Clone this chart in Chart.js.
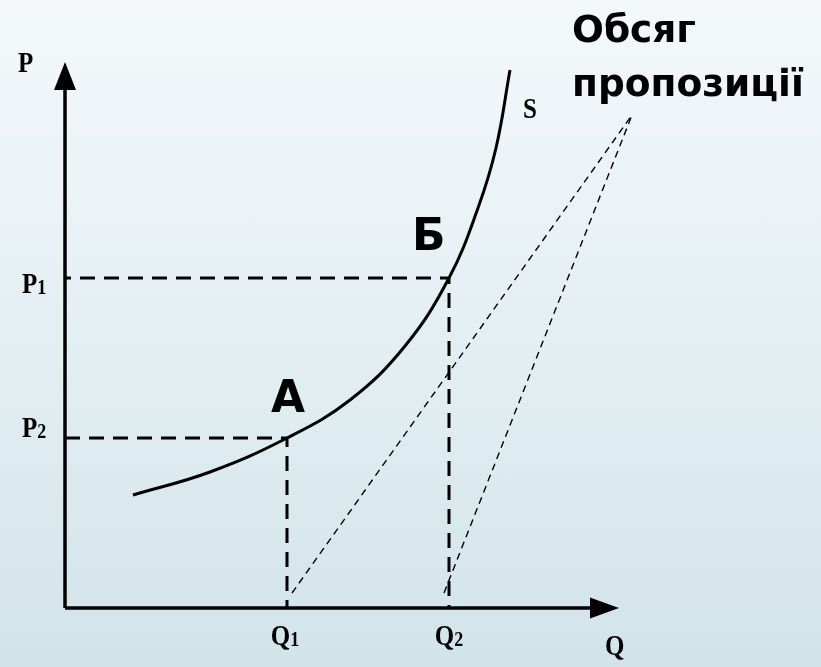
<!DOCTYPE html>
<html>
<head>
<meta charset="utf-8">
<script src="https://cdn.jsdelivr.net/npm/chart.js@4"></script>
<style>
  html, body { margin: 0; padding: 0; }
  body {
    width: 821px; height: 667px; overflow: hidden;
    background: linear-gradient(to bottom, #f4f8fa 0%, #e4eff3 50%, #d2e3ea 100%);
  }
  canvas { display: block; }
</style>
</head>
<body>
<canvas id="supplyChart" width="821" height="667"></canvas>
<script>
// values (Q along the bottom, P up the side)
const qMax = 554;            // end of Q axis (arrow tip)
const pMax = 546;            // end of P axis (arrow tip)
const Q1 = 222, Q2 = 384;
const P1 = 330, P2 = 170;

const supplyQ = [68, 145, 222, 285, 340, 384, 413, 431, 445];
const supplyP = [113, 136, 170, 208, 262, 330, 400, 460, 538];

// the two thin dashed lines meeting up by the caption
const rayTop = { q: 567, p: 493 };
const rayFromQ1 = { q: 227, p: 15 };
const rayFromQ2 = { q: 379, p: 15 };

const tickLabels = { p: "P", p1: ["P", "1"], p2: ["P", "2"], q: "Q", q1: ["Q", "1"], q2: ["Q", "2"], s: "S" };
const pointLabels = { a: "А", b: "Б" };
const caption = ["Обсяг", "пропозиції"];

const supply = supplyQ.map((q, i) => ({ x: q, y: supplyP[i] }));

const arrowHeads = {
  id: "arrowHeads",
  afterDatasetsDraw(chart) {
    const { ctx, scales: { x, y } } = chart;
    const x0 = x.getPixelForValue(0), y0 = y.getPixelForValue(0);
    const xt = x.getPixelForValue(qMax), yt = y.getPixelForValue(pMax);
    ctx.save();
    ctx.fillStyle = "#000";
    ctx.beginPath();
    ctx.moveTo(xt, y0);
    ctx.lineTo(xt - 29, y0 - 10.5);
    ctx.lineTo(xt - 29, y0 + 10.5);
    ctx.closePath();
    ctx.fill();
    ctx.beginPath();
    ctx.moveTo(x0, yt);
    ctx.lineTo(x0 - 11, yt + 28);
    ctx.lineTo(x0 + 11, yt + 28);
    ctx.closePath();
    ctx.fill();
    ctx.restore();
  }
};

const serif = '"Liberation Serif", "Times New Roman", serif';
const sans = '"DejaVu Sans", sans-serif';

function serifLabel(ctx, parts, px, py, align) {
  const main = parts[0], sub = parts[1] || "";
  ctx.save();
  ctx.font = "bold 25px " + serif;
  const wMain = ctx.measureText(main).width;
  ctx.font = "bold 18px " + serif;
  const wSub = ctx.measureText(sub).width;
  const w = wMain + wSub;
  let left = align === "center" ? px - w / 2 : px;
  ctx.translate(left, py);
  ctx.scale(1, 1.18);
  ctx.textBaseline = "alphabetic";
  ctx.font = "bold 25px " + serif;
  ctx.fillText(main, 0, 0);
  if (sub) {
    ctx.font = "bold 18px " + serif;
    ctx.fillText(sub, wMain, 1);
  }
  ctx.restore();
}

const textLabels = {
  id: "textLabels",
  afterDatasetsDraw(chart) {
    const { ctx, scales: { x, y } } = chart;
    const X = v => x.getPixelForValue(v), Y = v => y.getPixelForValue(v);
    ctx.save();
    ctx.fillStyle = "#000";
    serifLabel(ctx, [tickLabels.p], X(-47), Y(536), "left");
    serifLabel(ctx, tickLabels.p1, X(-43), Y(315), "left");
    serifLabel(ctx, tickLabels.p2, X(-43), Y(171), "left");
    serifLabel(ctx, tickLabels.q1, X(Q1 - 2), Y(-37), "center");
    serifLabel(ctx, tickLabels.q2, X(Q2), Y(-37), "center");
    serifLabel(ctx, [tickLabels.q], X(540), Y(-47), "left");
    serifLabel(ctx, [tickLabels.s], X(458), Y(490), "left");

    ctx.textBaseline = "alphabetic";
    ctx.font = "bold 44px " + sans;
    ctx.fillText(pointLabels.a, X(206), Y(196));
    ctx.fillText(pointLabels.b, X(347), Y(358));

    ctx.font = "bold 37.5px " + sans;
    ctx.fillText(caption[0], X(507), Y(566));
    ctx.fillText(caption[1], X(507), Y(512));
    ctx.restore();
  }
};

new Chart(document.getElementById("supplyChart"), {
  type: "scatter",
  data: {
    datasets: [
      { label: "S", data: supply, borderColor: "#000", borderWidth: 3, tension: 0.4 },
      { label: "Q axis", data: [{ x: 0, y: 0 }, { x: qMax - 20, y: 0 }], borderColor: "#000", borderWidth: 3.5 },
      { label: "P axis", data: [{ x: 0, y: 0 }, { x: 0, y: pMax - 20 }], borderColor: "#000", borderWidth: 3.5 },
      { label: "Б", data: [{ x: 0, y: P1 }, { x: Q2, y: P1 }, { x: Q2, y: 0 }], borderColor: "#000", borderWidth: 3, borderDash: [15, 9], borderDashOffset: 9 },
      { label: "А", data: [{ x: 0, y: P2 }, { x: Q1, y: P2 }, { x: Q1, y: 0 }], borderColor: "#000", borderWidth: 3, borderDash: [15, 9] },
      { label: "ray 1", data: [rayFromQ1, rayTop].map(r => ({ x: r.q, y: r.p })), borderColor: "#000", borderWidth: 1.4, borderDash: [7, 5] },
      { label: "ray 2", data: [rayFromQ2, rayTop].map(r => ({ x: r.q, y: r.p })), borderColor: "#000", borderWidth: 1.4, borderDash: [7, 5] }
    ].map(d => Object.assign({ showLine: true, pointRadius: 0, fill: false, tension: 0 }, d))
  },
  options: {
    responsive: false,
    animation: false,
    layout: { padding: 0 },
    plugins: { legend: { display: false }, tooltip: { enabled: false } },
    scales: {
      x: { type: "linear", min: -65, max: 756, display: false },
      y: { type: "linear", min: -59, max: 608, display: false }
    }
  },
  plugins: [arrowHeads, textLabels]
});
</script>
</body>
</html>
